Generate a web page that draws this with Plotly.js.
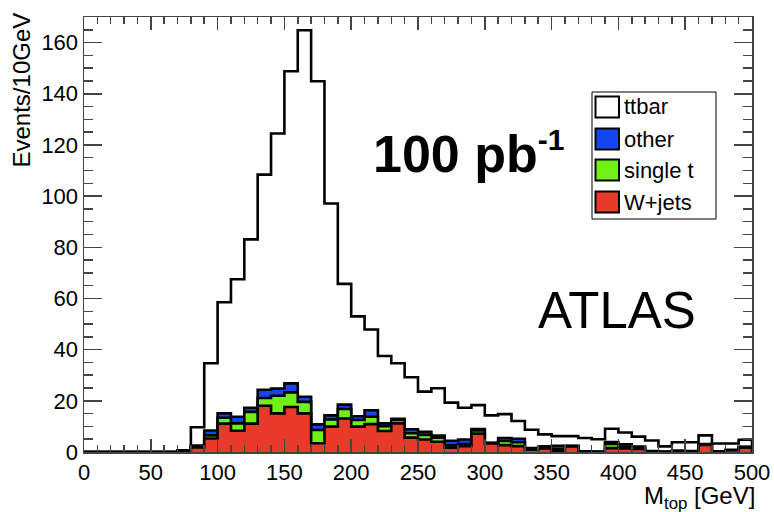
<!DOCTYPE html>
<html><head><meta charset="utf-8">
<script src="https://cdn.plot.ly/plotly-3.0.1.min.js"></script>
<style>html,body{margin:0;padding:0;background:#fff}#chart{width:774px;height:512px}</style>
</head><body><div id="chart"></div>
<script>
// bin lower edges (GeV), 10 GeV bins
const binLow = [0,10,20,30,40,50,60,70,80,90,100,110,120,130,140,150,160,170,180,190,200,210,220,230,240,250,260,270,280,290,300,310,320,330,340,350,360,370,380,390,400,410,420,430,440,450,460,470,480,490];
const binWidth = 10;
// per-bin contributions (events / 10 GeV)
const ttbar   = [0,0,0,0,0,0,0,0.2,7.2,26.3,43.4,53.7,65.8,84.1,99.7,122.0,143.2,134.1,82.8,47.2,39.0,31.6,26.3,21.7,20.3,15.7,18.5,14.9,12.4,9.3,10.7,9.3,6.9,7.2,4.7,3.8,3.8,5.2,4.8,5.2,4.6,3.9,4.1,2.0,3.2,3.4,3.4,3.0,2.4,2.8];
const other   = [0,0,0,0,0,0,0,0.1,0.4,1.9,1.7,2.6,1.6,3.2,2.8,3.5,2.0,2.2,1.6,1.7,1.5,2.5,1.1,0.5,1.6,1.2,0.8,1.8,1.8,0.6,0.1,1.2,1.4,0.4,0.5,1.3,0.1,0.2,0.2,0.8,1.0,0.5,0.3,0.2,0.4,0.3,0.2,0.3,0.2,0.1];
const singleT = [0,0,0,0,0,0,0,0,0.3,1.2,2.3,2.9,4.6,3.0,6.9,5.7,4.5,5.2,2.8,3.7,2.6,2.9,1.9,1.3,1.7,1.8,1.6,0.9,0.8,1.2,0.2,1.6,1.5,0.2,0.3,0.7,0.1,0.1,0,1.6,0.6,0.4,0.1,0,0.2,0.1,0.1,0,0,0.2];
const wjets   = [0,0,0,0,0,0,0,0.4,1.8,5.3,11.1,8.3,11.1,18.1,15.1,17.6,15.1,3.4,9.9,13.1,9.9,10.9,8.2,11.2,5.6,4.9,4.0,1.7,2.3,7.2,3.3,2.7,2.3,0.9,1.4,0.4,2.2,0,0,1.5,1.4,1.2,0,0,0,0,2.8,0,0.7,1.7];

const xTickVals = [0,50,100,150,200,250,300,350,400,450,500];
const yTickVals = [0,20,40,60,80,100,120,140,160];
const legendLabels = ['ttbar','other','single t','W+jets'];
const legendColors = ['#ffffff','#1446f0','#70f015','#e83a28'];
const lumiText = '100 pb<sup><span style="font-size:30px">-1</span></sup>';
const expText = 'ATLAS';
const xTitle = 'M<sub>top</sub> [GeV]';
const yTitle = 'Events/10GeV';

function add(a,b){return a.map((v,i)=>v+b[i]);}
const cumW = wjets.slice();
const cumS = add(cumW, singleT);
const cumO = add(cumS, other);
const cumT = add(cumO, ttbar);

function step(vals){
  const n = vals.length;
  const xs=[binLow[0]], ys=[0];
  for(let i=0;i<n;i++){xs.push(binLow[i]); ys.push(vals[i]);}
  const end = binLow[n-1]+binWidth;
  xs.push(end); ys.push(vals[n-1]);
  xs.push(end); ys.push(0);
  return {xs,ys};
}
function trace(vals,color){
  const s=step(vals);
  return {x:s.xs,y:s.ys,type:'scatter',mode:'lines',line:{shape:'hv',color:'#000',width:2.6},
          fill:'tozeroy',fillcolor:color,showlegend:false,hoverinfo:'skip'};
}
const data=[trace(cumT,legendColors[0]),trace(cumO,legendColors[1]),trace(cumS,legendColors[2]),trace(cumW,legendColors[3])];

// pixel -> paper helpers (plot area 84..752 x 17..452)
const L=84,R=752,T=17,B=452;
const fx=p=>(p-L)/(R-L), fy=p=>(B-p)/(B-T);
const FONT='Liberation Sans, Arial, Helvetica, sans-serif';

const shapes=[{type:'rect',xref:'paper',yref:'paper',x0:fx(592),x1:fx(716),y0:fy(92),y1:fy(219),
  line:{color:'#000',width:1},fillcolor:'#fff',layer:'above'}];
const annotations=[];
const rowY=[107,139,170,202];
legendLabels.forEach((lab,i)=>{
  shapes.push({type:'rect',xref:'paper',yref:'paper',x0:fx(595.5),x1:fx(619),y0:fy(rowY[i]-10.5),y1:fy(rowY[i]+10.5),
    line:{color:'#000',width:2},fillcolor:legendColors[i],layer:'above'});
  annotations.push({xref:'paper',yref:'paper',x:fx(622),y:fy(rowY[i]),xanchor:'left',yanchor:'middle',
    text:lab,showarrow:false,font:{family:FONT,size:22,color:'#000'}});
});
annotations.push({xref:'paper',yref:'paper',x:fx(371),y:fy(153),xanchor:'left',yanchor:'middle',
  text:'<b>'+lumiText+'</b>',showarrow:false,font:{family:FONT,size:52,color:'#000'}});
annotations.push({xref:'paper',yref:'paper',x:fx(617),y:fy(310),xanchor:'center',yanchor:'middle',
  text:expText,showarrow:false,font:{family:FONT,size:51,color:'#000'}});
annotations.push({xref:'paper',yref:'paper',x:fx(757),y:fy(497),xanchor:'right',yanchor:'middle',
  text:xTitle,showarrow:false,font:{family:FONT,size:24,color:'#000'}});
annotations.push({xref:'paper',yref:'paper',x:fx(21),y:fy(11),xanchor:'center',yanchor:'top',textangle:-90,
  text:yTitle,showarrow:false,font:{family:FONT,size:24,color:'#000'}});

const axCommon={showgrid:false,zeroline:false,showline:true,linecolor:'#444',linewidth:1.5,mirror:'ticks',
  ticks:'inside',tickcolor:'#444',tickwidth:1.5,tickmode:'array',
  tickfont:{family:FONT,size:22,color:'#000'},fixedrange:true};
const layout={width:774,height:512,margin:{l:L,r:774-R,t:T,b:512-B},paper_bgcolor:'#fff',plot_bgcolor:'#fff',
  xaxis:Object.assign({},axCommon,{range:[0,500],tickvals:xTickVals,ticklen:13,
    minor:{dtick:10,tick0:0,ticks:'inside',ticklen:7,tickcolor:'#444',tickwidth:1.5}}),
  yaxis:Object.assign({},axCommon,{range:[0,170],tickvals:yTickVals,ticklen:18,
    minor:{dtick:5,tick0:0,ticks:'inside',ticklen:9,tickcolor:'#444',tickwidth:1.5}}),
  shapes:shapes,annotations:annotations,showlegend:false};
Plotly.newPlot('chart',data,layout,{staticPlot:true,displayModeBar:false});
</script></body></html>
